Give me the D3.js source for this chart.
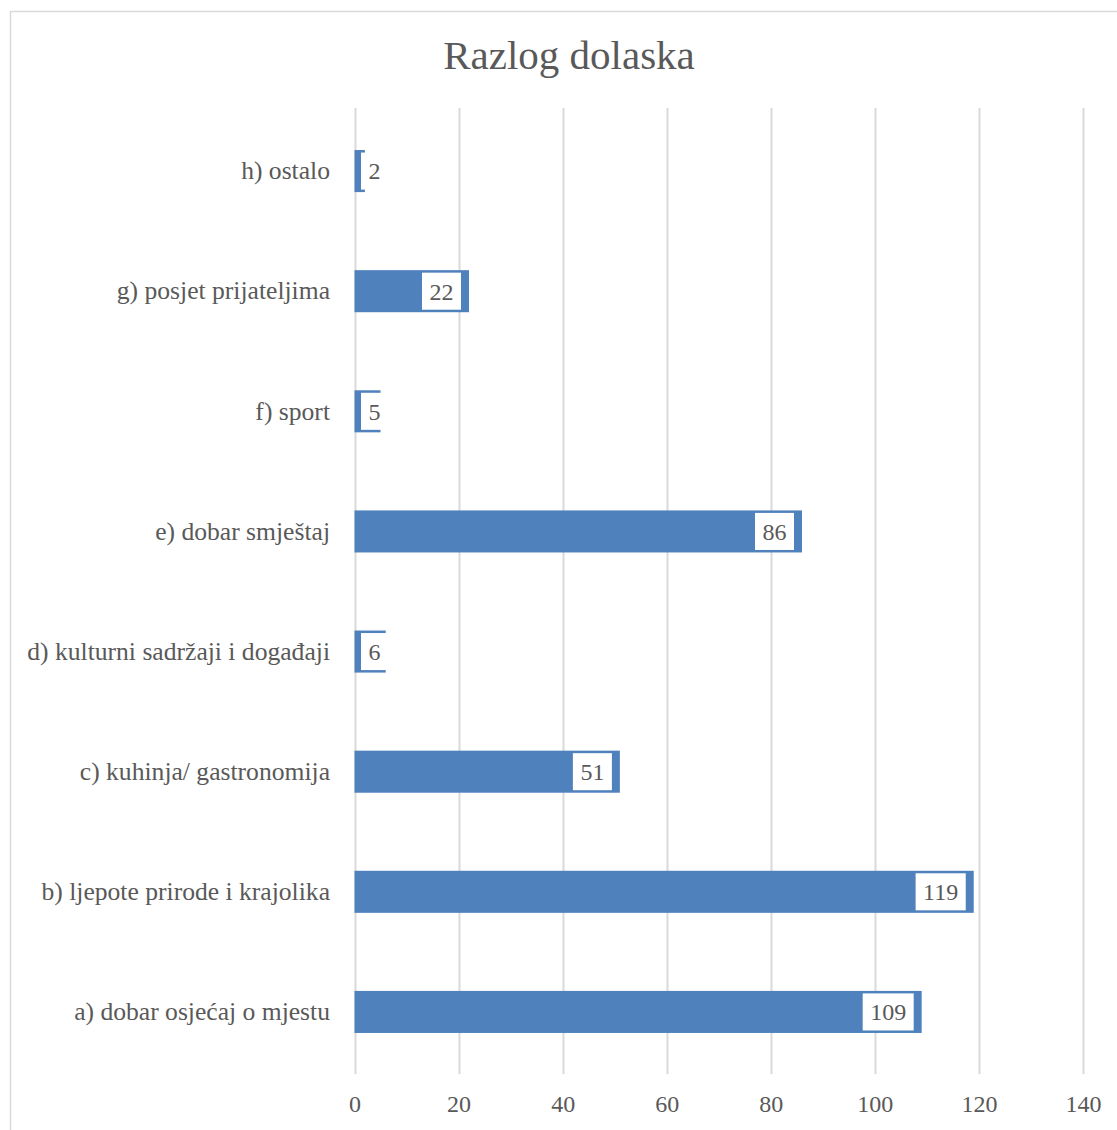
<!DOCTYPE html>
<html>
<head>
<meta charset="utf-8">
<script src="https://cdn.jsdelivr.net/npm/d3@7"></script>
<style>
  html, body { margin: 0; padding: 0; background: #fff; }
  svg { display: block; }
  text { font-family: "Liberation Serif", "DejaVu Serif", serif; fill: #595959; }
</style>
</head>
<body>
<svg id="chart" width="1117" height="1130"></svg>
<script>
// Survey answers: reason for visiting
const categories = [
  "h) ostalo",
  "g) posjet prijateljima",
  "f) sport",
  "e) dobar smještaj",
  "d) kulturni sadržaji i događaji",
  "c) kuhinja/ gastronomija",
  "b) ljepote prirode i krajolika",
  "a) dobar osjećaj o mjestu"
];
const counts = [2, 22, 5, 86, 6, 51, 119, 109];
const xTicks = [0, 20, 40, 60, 80, 100, 120, 140];
const title = "Razlog dolaska";

const svg = d3.select("#chart");
const W = 1117, H = 1130;

// Outer chart frame (runs past the right and bottom edges)
svg.append("rect")
  .attr("x", 10.5).attr("y", 11.5)
  .attr("width", W + 20).attr("height", H + 20)
  .attr("fill", "#fff").attr("stroke", "#d9d9d9").attr("stroke-width", 1.5);

const plot = { left: 354.5, right: 1083, top: 111, bottom: 1072 };

const x = d3.scaleLinear().domain([0, 140]).range([plot.left, plot.right]);
const y = d3.scaleBand().domain(categories).range([plot.top, plot.bottom]).paddingInner(0.65).paddingOuter(0.325);

// Title
svg.append("text")
  .attr("x", 569).attr("y", 69)
  .attr("text-anchor", "middle")
  .style("font-size", "41px")
  .text(title);

// Vertical gridlines
svg.append("g")
  .selectAll("line")
  .data(xTicks)
  .join("line")
  .attr("x1", d => Math.round(x(d)) + 0.5).attr("x2", d => Math.round(x(d)) + 0.5)
  .attr("y1", 108).attr("y2", 1074)
  .attr("stroke", "#d9d9d9").attr("stroke-width", 2);

// X axis tick labels
const xAxis = d3.axisBottom(x).tickValues(xTicks).tickSize(0).tickPadding(0);
const gx = svg.append("g").attr("transform", "translate(0,1095)").call(xAxis);
gx.select(".domain").remove();
gx.selectAll("text")
  .attr("dy", "0.71em")
  .style("font-size", "24px")
  .style("font-family", "'Liberation Serif', serif")
  .attr("fill", "#595959");

// Category labels
const yAxis = d3.axisLeft(y).tickSize(0).tickPadding(0);
const gy = svg.append("g").attr("transform", "translate(330,0)").call(yAxis);
gy.select(".domain").remove();
gy.selectAll("text")
  .style("font-size", "25.6px")
  .style("font-family", "'Liberation Serif', serif")
  .attr("fill", "#595959");

// Bars
const data = categories.map((c, i) => ({ cat: c, val: counts[i] }));
svg.append("g")
  .selectAll("rect")
  .data(data)
  .join("rect")
  .attr("x", x(0))
  .attr("y", d => y(d.cat))
  .attr("width", d => x(d.val) - x(0))
  .attr("height", y.bandwidth())
  .attr("fill", "#4f81bd");

// Value labels in white boxes at the bar end
const lab = svg.append("g");
data.forEach(d => {
  const g = lab.append("g");
  const box = g.append("rect").attr("fill", "#fff");
  const t = g.append("text")
    .style("font-size", "24px")
    .attr("text-anchor", "middle")
    .attr("dy", "0.35em")
    .text(d.val);
  const tw = t.node().getComputedTextLength();
  const bw = tw + 15;
  const barW = x(d.val) - x(0);
  let bx;
  if (barW - 8 - bw >= 7) bx = x(d.val) - 8 - bw;
  else bx = x(0) + 6.5;
  const by = y(d.cat) + 2.5, bh = y.bandwidth() - 5;
  box.attr("x", bx).attr("y", by).attr("width", bw).attr("height", bh);
  t.attr("x", bx + bw / 2).attr("y", y(d.cat) + y.bandwidth() / 2);
});
</script>
</body>
</html>
